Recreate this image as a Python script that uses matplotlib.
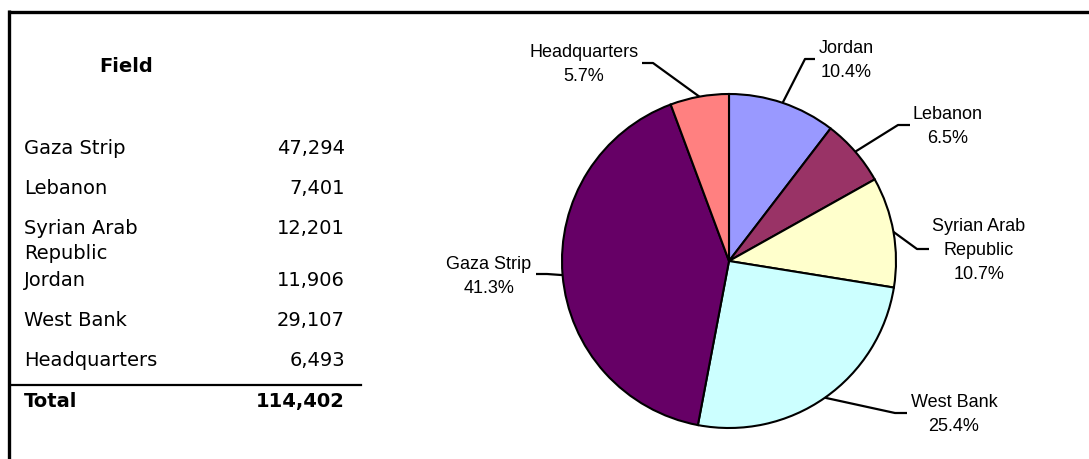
import matplotlib.pyplot as plt
import numpy as np

# Staff by field, in the order of the table
fields = ['Gaza Strip', 'Lebanon', 'Syrian Arab\nRepublic', 'Jordan', 'West Bank', 'Headquarters']
staff = [47294, 7401, 12201, 11906, 29107, 6493]
total = 114402

# Pie goes clockwise from 12 o'clock in this order
pie_fields = ['Jordan', 'Lebanon', 'Syrian Arab\nRepublic', 'West Bank', 'Gaza Strip', 'Headquarters']
pie_colors = ['#9999FF', '#993366', '#FFFFCC', '#CCFFFF', '#660066', '#FF8080']

# label placement: (text x, first baseline y, elbow, end of leader)
label_pos = {
    'Jordan': (846, 53, (805, 59), (815, 59)),
    'Lebanon': (948, 119, (898, 125), (910, 125)),
    'Syrian Arab\nRepublic': (979, 231, (917, 249), (929, 249)),
    'West Bank': (954, 407, (895, 413), (907, 413)),
    'Gaza Strip': (489, 269, (547, 274), (536, 274)),
    'Headquarters': (584, 57, (653, 63), (642, 63)),
}

W, H = 1089, 459
fig = plt.figure(figsize=(W / 100, H / 100), dpi=100)
ax = fig.add_axes([0, 0, 1, 1])

pie_values = [staff[fields.index(f)] for f in pie_fields]
cx, cy, r = 729, 261, 167
# y axis runs downward (pixel style), so counterclock in data = clockwise on screen
wedges, _ = ax.pie(pie_values, colors=pie_colors, startangle=270, counterclock=True,
                   center=(cx, cy), radius=r, frame=True,
                   wedgeprops=dict(edgecolor='black', linewidth=1.5))

ax.set_xlim(0, W)
ax.set_ylim(H, 0)
ax.set_aspect('equal')
ax.axis('off')

lab_font = dict(family='Liberation Sans', fontsize=13, ha='center', va='baseline')
for f, v, w in zip(pie_fields, pie_values, wedges):
    tx, ty, elbow, end = label_pos[f]
    mid = np.deg2rad((w.theta1 + w.theta2) / 2)
    sx, sy = cx + r * np.cos(mid), cy + r * np.sin(mid)
    ax.plot([sx, elbow[0], end[0]], [sy, elbow[1], end[1]], color='black', lw=1.6,
            solid_capstyle='butt')
    lines = f.split('\n') + ['%.1f%%' % (100 * v / total)]
    for i, line in enumerate(lines):
        ax.text(tx, ty + 24 * i, line, **lab_font)

# table on the left
tab_font = dict(family='DejaVu Sans', fontsize=14, va='baseline')
ax.text(126, 72, 'Field', ha='center', fontweight='bold', **tab_font)
y = 154
for f, v in zip(fields, staff):
    parts = f.split('\n')
    for i, line in enumerate(parts):
        ax.text(24, y + 25 * i, line, ha='left', **tab_font)
    ax.text(345, y, '{:,}'.format(v), ha='right', **tab_font)
    y += 40 + 12 * (len(parts) - 1)

ax.plot([10, 361], [385, 385], color='black', lw=1.6)
ax.text(24, 407, 'Total', ha='left', fontweight='bold', **tab_font)
ax.text(345, 407, '{:,}'.format(total), ha='right', fontweight='bold', **tab_font)

# frame lines on top and left
ax.plot([8, W], [11.5, 11.5], color='black', lw=2.4, solid_capstyle='butt')
ax.plot([9, 9], [10, H], color='black', lw=2.4, solid_capstyle='butt')

fig.savefig('out.png', dpi=100, facecolor='white')
